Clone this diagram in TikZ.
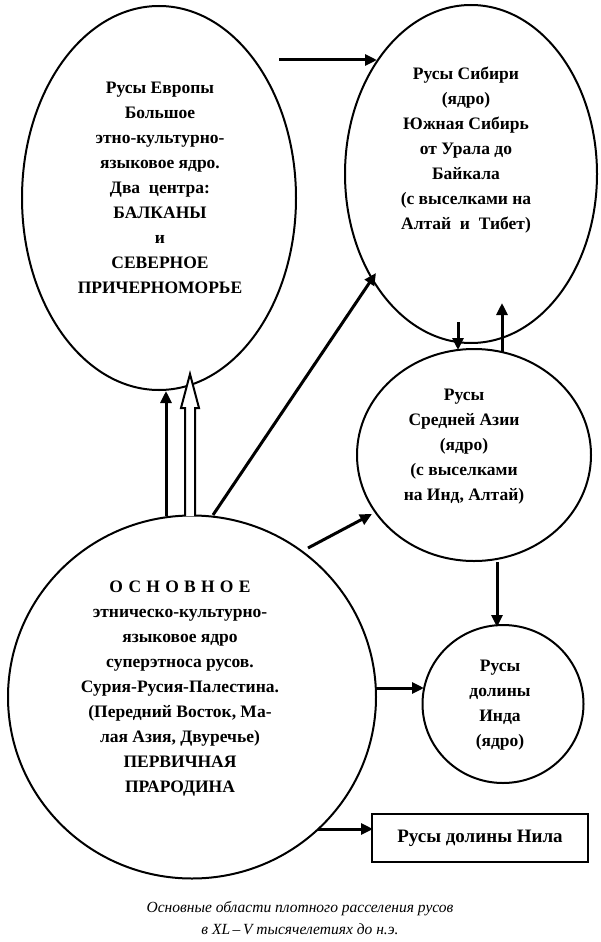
\documentclass[tikz,border=0pt]{standalone}
\usepackage{fontspec}
\setmainfont{Liberation Serif}
\usetikzlibrary{shapes.geometric,arrows.meta}
\begin{document}
\begin{tikzpicture}[x=1pt,y=-1pt,
  shp/.style={draw,line width=2pt,ellipse,inner sep=0pt},
  txt/.style={font=\bfseries\fontsize{17.5}{25}\selectfont,align=center,inner sep=0pt},
  arr/.style={line width=3pt,-{Triangle[length=12pt,width=11pt]}}]
\useasboundingbox (0,0) rectangle (600,942);
\node[shp,minimum width=274pt,minimum height=384pt] (eu) at (159,198) {};
\node[shp,minimum width=252pt,minimum height=338pt] (sib) at (471,174) {};
\node[shp,minimum width=234pt,minimum height=212pt] (ca) at (474,455) {};
\node[shp,minimum width=161pt,minimum height=158pt] (ind) at (503,704) {};
\node[shp,minimum width=368pt,minimum height=363pt] (main) at (192,697) {};
\node[draw,line width=2.5pt,minimum width=216pt,minimum height=48pt,inner sep=0pt,txt,font=\bfseries\fontsize{19}{25}\selectfont] (nil) at (480,838) {Русы долины Нила};

\node[txt] (eut) at (160,188) {Русы Европы\\Большое\\этно-культурно-\\языковое ядро.\\Два\ \ центра:\\БАЛКАНЫ\\и\\СЕВЕРНОЕ\\ПРИЧЕРНОМОРЬЕ};
\node[txt] (sibt) at (466,150) {Русы Сибири\\(ядро)\\Южная Сибирь\\от Урала до\\Байкала\\(с выселками на\\Алтай\ \ и\ \ Тибет)};
\node[txt] (cat) at (464,447) {Русы\\Средней Азии\\(ядро)\\(с выселками\\на Инд, Алтай)};
\node[txt] (indt) at (500,705) {Русы\\долины\\Инда\\(ядро)};
\node[txt] (maint) at (180,689) {{\addfontfeature{LetterSpace=30}ОСНОВНОЕ}\\этническо-культурно-\\языковое ядро\\суперэтноса русов.\\Сурия-Русия-Палестина.\\(Передний Восток, Ма-\\лая Азия, Двуречье)\\ПЕРВИЧНАЯ\\ПРАРОДИНА};
\node[font=\itshape\fontsize{15.5}{22}\selectfont,align=center,inner sep=0pt] (cap) at (300,918) {Основные области плотного расселения русов\\в XL\,–\,V тысячелетиях до н.э.};

% arrows
\coordinate (a1) at (279,60); \coordinate (a1e) at (377,60);
\draw[arr] (a1) -- (a1e);
\coordinate (d1) at (458,322); \coordinate (d1e) at (458,350);
\draw[arr] (d1) -- (d1e);
\coordinate (u1) at (502,352); \coordinate (u1e) at (502,303);
\draw[arr] (u1) -- (u1e);
\coordinate (m1) at (213,515); \coordinate (m1e) at (376,273);
\draw[arr] (m1) -- (m1e);
\coordinate (m2) at (308,548); \coordinate (m2e) at (372,514);
\draw[arr] (m2) -- (m2e);
\coordinate (c1) at (497,562); \coordinate (c1e) at (497,627);
\draw[arr] (c1) -- (c1e);
\coordinate (m3) at (376,688); \coordinate (m3e) at (424,688);
\draw[arr] (m3) -- (m3e);
\coordinate (m4) at (318,829); \coordinate (m4e) at (373,829);
\draw[arr] (m4) -- (m4e);
\coordinate (b1) at (166,516); \coordinate (b1e) at (166,391);
\draw[arr] (b1) -- (b1e);
% hollow double arrow
\draw[line width=2pt,fill=white,line join=miter] (185,516) -- (185,408) -- (181,408) -- (190,374) -- (199,408) -- (195,408) -- (195,516);
\end{tikzpicture}
\end{document}
